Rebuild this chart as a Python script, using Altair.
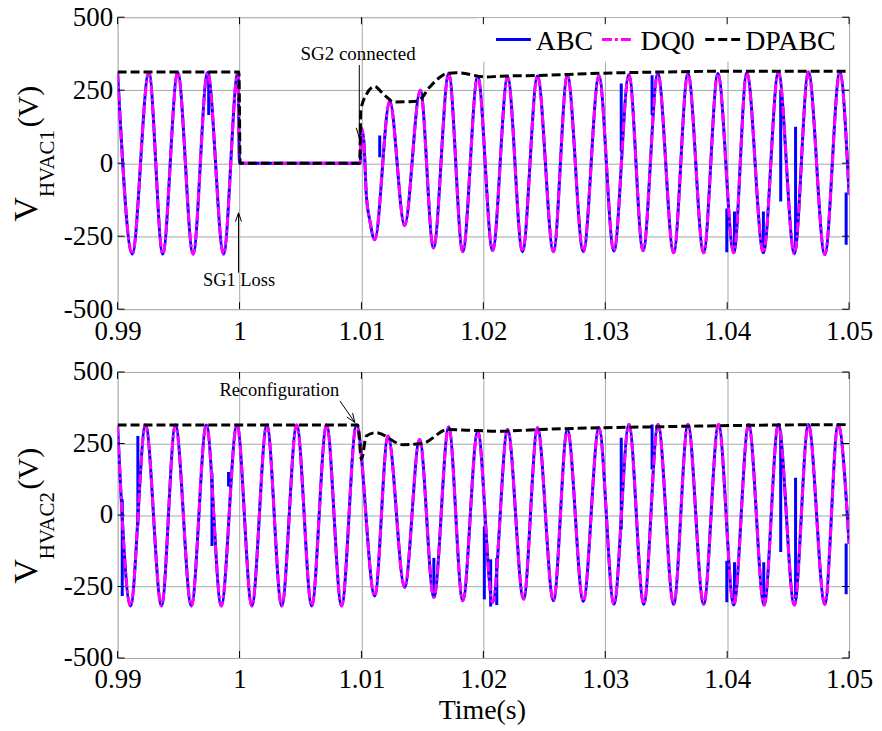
import altair as alt
import pandas as pd

FONT = "Liberation Serif"
BLUE = "#0000ff"
MAGENTA = "#ff00ff"
BLACK = "#000000"
GRID = "#a8a8a8"

X_MIN, X_MAX = 0.99, 1.05
Y_MIN, Y_MAX = -500, 500
x_tick_values = [0.99, 1.0, 1.01, 1.02, 1.03, 1.04, 1.05]
y_tick_values = [-500, -250, 0, 250, 500]
series_names = ["ABC", "DQ0", "DPABC"]

# ---------------- Panel 1: V_HVAC1 ----------------
top_wave_t = [0.99000, 0.99120, 0.99256, 0.99370, 0.99493, 0.99619, 0.99738, 0.99869, 0.99987, 1.00000,
              1.00990, 1.01000, 1.01020, 1.01040, 1.01070, 1.01109, 1.01232, 1.01354, 1.01483, 1.01591,
              1.01716, 1.01831, 1.01954, 1.02076, 1.02199, 1.02321, 1.02444, 1.02575, 1.02689, 1.02820,
              1.02948, 1.03071, 1.03194, 1.03310, 1.03431, 1.03561, 1.03678, 1.03807, 1.03924, 1.04054,
              1.04161, 1.04297, 1.04420, 1.04551, 1.04666, 1.04801, 1.04924, 1.05000]
top_wave_v = [310, -311, 311, -311, 311, -311, 311, -311, 311, 0,
              0, 120, 74, -108, -199, -262, 212, -213, 250, -290,
              307, -303, 298, -299, 295, -303, 299, -303, 301, -303,
              299, -301, 303, -300, 307, -307, 307, -307, 307, -307,
              310, -307, 312, -310, 312, -313, 312, -108]
top_env_t = [0.99000, 0.99995, 1.00005, 1.00985, 1.00995, 1.01040, 1.01080, 1.01110, 1.01160, 1.01220,
             1.01260, 1.01460, 1.01560, 1.01630, 1.01695, 1.01777, 1.02030, 1.02130, 1.02510, 1.02870,
             1.03410, 1.04010, 1.05000]
top_env_v = [312, 312, 0, 0, 182, 235, 258, 263, 245, 222,
             210, 212, 261, 290, 307, 310, 295, 298, 301, 307,
             312, 315, 315]
top_spike_t = [0.99747, 1.01150, 1.03131, 1.03384, 1.03997, 1.04060, 1.04297, 1.04439, 1.04561, 1.04976]
top_spike_lo = [165, 20, 40, 165, -305, -300, -300, -131, -290, -279]
top_spike_hi = [310, 95, 273, 301, -155, -165, -165, 250, 125, -100]

# ---------------- Panel 2: V_HVAC2 ----------------
bot_wave_t = [0.99000, 0.99106, 0.99229, 0.99360, 0.99474, 0.99605, 0.99728, 0.99850, 0.99979, 1.00101,
              1.00224, 1.00346, 1.00469, 1.00592, 1.00714, 1.00837, 1.00959, 1.01109, 1.01218, 1.01354,
              1.01477, 1.01594, 1.01716, 1.01831, 1.01954, 1.02076, 1.02199, 1.02330, 1.02444, 1.02575,
              1.02689, 1.02820, 1.02948, 1.03071, 1.03194, 1.03316, 1.03433, 1.03561, 1.03678, 1.03807,
              1.03929, 1.04054, 1.04176, 1.04303, 1.04420, 1.04551, 1.04666, 1.04801, 1.04910, 1.05000]
bot_wave_v = [311, -318, 315, -318, 315, -318, 315, -318, 315, -318,
              315, -318, 315, -318, 315, -318, 315, -283, 276, -253,
              264, -288, 308, -300, 293, -305, 299, -294, 305, -300,
              299, -302, 305, -312, 316, -312, 316, -312, 316, -312,
              316, -315, 316, -315, 316, -315, 316, -312, 316, -100]
bot_env_t = [0.99000, 1.00970, 1.01000, 1.01040, 1.01120, 1.01340, 1.01500, 1.01710, 1.01890, 1.02130,
             1.02460, 1.02950, 1.03360, 1.03770, 1.04260, 1.05000]
bot_env_v = [315, 315, 194, 276, 288, 246, 250, 299, 296, 293,
             299, 305, 308, 311, 314, 316]
bot_spike_t = [0.99038, 0.99166, 0.99774, 0.99910, 1.01594, 1.02008, 1.02060, 1.02110, 1.03131, 1.03384,
               1.03997, 1.04060, 1.04300, 1.04439, 1.04561, 1.04976]
bot_spike_lo = [-283, -38, -108, 100, -290, -295, -320, -315, -50, 159, -305, -300, -300, -129, -294, -277]
bot_spike_hi = [55, 276, 148, 150, -150, -40, -155, -150, 270, 316, -160, -165, -165, 290, 130, -100]

W = 734
H_TOP = 293
H_BOT = 287

one_row = pd.DataFrame({"k": [0]})
xticks_df = pd.DataFrame({"t": x_tick_values})
yticks_df = pd.DataFrame({"v": y_tick_values})

x_axis = alt.Axis(values=x_tick_values, title=None,
                  labelExpr="datum.value == 1 ? '1' : format(datum.value, '.2f')",
                  grid=True, gridColor=GRID, gridWidth=1, domain=False, ticks=False, tickSize=0,
                  labelFont=FONT, labelFontSize=27, labelColor="black", labelPadding=9,
                  labelOverlap=False, labelFlush=False, labelBound=False)
y_axis = alt.Axis(values=y_tick_values, title=None, labelExpr="'' + datum.value",
                  grid=True, gridColor=GRID, gridWidth=1, domain=False, ticks=False, tickSize=0,
                  labelFont=FONT, labelFontSize=27, labelColor="black", labelPadding=5,
                  labelOverlap=False, labelFlush=False, labelBound=False)
xs = alt.Scale(domain=[X_MIN, X_MAX], nice=False, zero=False)
ys = alt.Scale(domain=[Y_MIN, Y_MAX], nice=False, zero=False)


def X(f):
    return alt.X(f"{f}:Q", scale=xs, axis=x_axis)


def Y(f):
    return alt.Y(f"{f}:Q", scale=ys, axis=y_axis)


def text_at(txt, x, y, size, angle=0, align="left"):
    return alt.Chart(one_row).mark_text(text=txt, font=FONT, fontSize=size, angle=angle, align=align,
                                        baseline="alphabetic", color="black").encode(
        x=alt.value(x), y=alt.value(y))


def seg(x1, y1, x2, y2, color=BLACK, width=1.0, dash=None):
    kw = {"strokeDash": dash} if dash else {}
    return alt.Chart(one_row).mark_rule(color=color, strokeWidth=width, **kw).encode(
        x=alt.value(x1), y=alt.value(y1), x2=alt.value(x2), y2=alt.value(y2))


def panel(wave_t, wave_v, env_t, env_v, sp_t, sp_lo, sp_hi, height, extras):
    wave = pd.DataFrame({"t": wave_t, "v": wave_v})
    env = pd.DataFrame({"t": env_t, "v": env_v})
    spikes = pd.DataFrame({"t": sp_t, "lo": sp_lo, "hi": sp_hi})
    abc = alt.Chart(wave).mark_line(color=BLUE, strokeWidth=3, interpolate="monotone", clip=True).encode(
        x=X("t"), y=Y("v"))
    abc_sp = alt.Chart(spikes).mark_rule(color=BLUE, strokeWidth=3, clip=True).encode(
        x=X("t"), y=Y("lo"), y2="hi:Q")
    dq0 = alt.Chart(wave).mark_line(color=MAGENTA, strokeWidth=3, interpolate="monotone",
                                    strokeDash=[10, 3, 3, 3], clip=True).encode(x=X("t"), y=Y("v"))
    dp = alt.Chart(env).mark_line(color=BLACK, strokeWidth=3, interpolate="monotone",
                                  strokeDash=[9, 4], clip=True).encode(x=X("t"), y=Y("v"))
    tick_len = 7
    xt_top = alt.Chart(xticks_df).mark_rule(color=BLACK, strokeWidth=1).encode(
        x=X("t"), y=alt.value(0), y2=alt.value(tick_len))
    xt_bot = alt.Chart(xticks_df).mark_rule(color=BLACK, strokeWidth=1).encode(
        x=X("t"), y=alt.value(height - tick_len), y2=alt.value(height))
    yt_l = alt.Chart(yticks_df).mark_rule(color=BLACK, strokeWidth=1).encode(
        y=Y("v"), x=alt.value(0), x2=alt.value(tick_len))
    yt_r = alt.Chart(yticks_df).mark_rule(color=BLACK, strokeWidth=1).encode(
        y=Y("v"), x=alt.value(W - tick_len), x2=alt.value(W))
    layers = [abc, abc_sp, dq0, dp] + extras + [xt_top, xt_bot, yt_l, yt_r]
    return alt.layer(*layers).properties(width=W, height=height)


# legend (top panel)
legend_layers = [
    alt.Chart(one_row).mark_rect(color="white").encode(
        x=alt.value(360), x2=alt.value(733), y=alt.value(1), y2=alt.value(44.7)),
    seg(379.7, 22.3, 414.7, 22.3, BLUE, 3),
    seg(486, 22.3, 518, 22.3, MAGENTA, 3, [10, 3, 3, 3]),
    seg(589.7, 22.3, 626, 22.3, BLACK, 3, [9, 4]),
    text_at(series_names[0], 419.7, 33, 28),
    text_at(series_names[1], 524.7, 33, 28),
    text_at(series_names[2], 629.7, 33, 28),
]

top_extras = legend_layers + [
    text_at("SG1 Loss", 121.8, 269.7, 18.5, align="center"),
    seg(121.3, 256.3, 121.3, 196.3),
    seg(121.3, 196.3, 118.3, 205),
    seg(121.3, 196.3, 124.3, 205),
    text_at("SG2 connected", 241.3, 43, 19, align="center"),
    seg(242.5, 48, 242.5, 121),
    seg(242.5, 121, 239.5, 111),
    seg(242.5, 121, 245.5, 111),
    text_at("V", -81, 205, 34, angle=270),
    text_at("HVAC1", -64, 180.5, 21, angle=270),
    text_at("(V)", -80, 110.5, 30, angle=270),
]

bot_extras = [
    text_at("Reconfiguration", 162.2, 24, 18.5, align="center"),
    seg(223, 29, 238, 50.6),
    seg(238, 50.6, 230, 45.2),
    seg(238, 50.6, 235.8, 41.2),
    text_at("V", -81, 212.3, 34, angle=270),
    text_at("HVAC2", -64, 187.8, 21, angle=270),
    text_at("(V)", -80, 117.8, 30, angle=270),
    text_at("Time(s)", 366, 348, 28, align="center"),
]

top = panel(top_wave_t, top_wave_v, top_env_t, top_env_v, top_spike_t, top_spike_lo, top_spike_hi,
            H_TOP, top_extras)
bot = panel(bot_wave_t, bot_wave_v, bot_env_t, bot_env_v, bot_spike_t, bot_spike_lo, bot_spike_hi,
            H_BOT, bot_extras)

chart = alt.vconcat(top, bot, spacing=63, bounds="flush").properties(
    padding={"left": 1, "top": -7, "right": 0, "bottom": 0}
).configure_view(stroke="black", strokeWidth=1.2).configure_axis(
    labelFont=FONT
).configure(background="white")

chart.save("out.html", embed_options={"renderer": "svg", "actions": False})
